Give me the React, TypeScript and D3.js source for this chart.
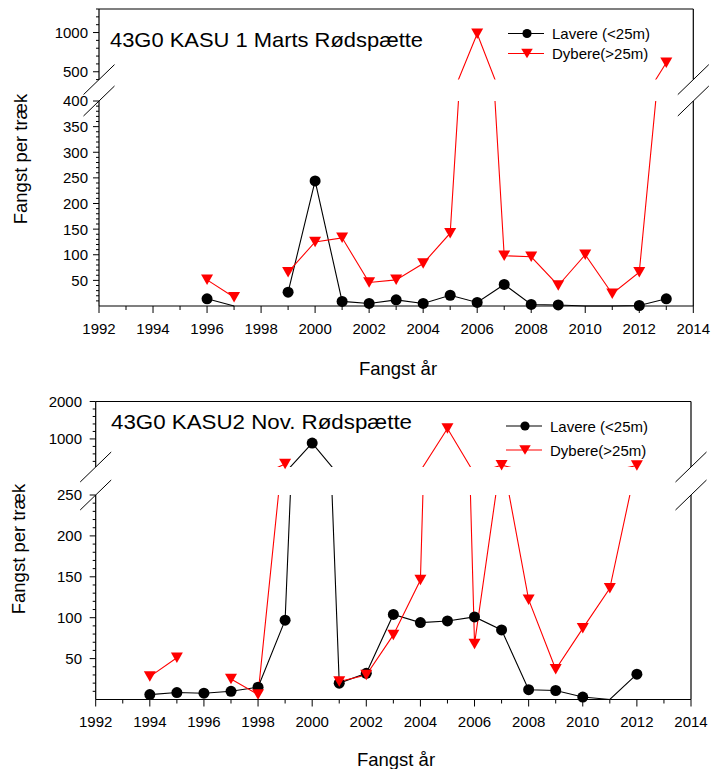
import React from 'react';
import * as d3 from 'd3';

// ---------- data ----------
const topYears = [1996, 1997, 1998, 1999, 2000, 2001, 2002, 2003, 2004, 2005, 2006, 2007, 2008, 2009, 2010, 2011, 2012, 2013];
const topLavere = [14, 0, null, 27, 244, 9, 5, 12, 5, 21, 7, 42, 3, 2, 0, 0, 1, 14];
const topDybere = [51, 17, null, 66, 125, 133, 46, 51, 83, 142, 985, 98, 96, 40, 100, 24, 66, 614];

const botYears = [1994, 1995, 1996, 1997, 1998, 1999, 2000, 2001, 2002, 2003, 2004, 2005, 2006, 2007, 2008, 2009, 2010, 2011, 2012];
const botLavere = [6, 8.5, 7.7, 10, 15, 97, 890, 20, 32, 104, 94, 96, 101, 85, 12, 11, 3, 0, 31];
const botDybere = [28, 51, null, 25, 6, 330, null, 22, 30, 79, 146, 1280, 68, 300, 122, 37, 87, 136, 290];

const xTickLabels = [1992, 1994, 1996, 1998, 2000, 2002, 2004, 2006, 2008, 2010, 2012, 2014];
const topLowerLabels = [50, 100, 150, 200, 250, 300, 350, 400];
const topUpperLabels = [500, 1000];
const botLowerLabels = [50, 100, 150, 200, 250];
const botUpperLabels = [1000, 2000];

const seriesNames = ['Lavere (<25m)', 'Dybere(>25m)'];
const titles = ['43G0 KASU 1 Marts Rødspætte', '43G0 KASU2 Nov. Rødspætte'];
const xTitle = 'Fangst år';
const yTitle = 'Fangst per træk';

const RED = '#ff0000';
const FONT = 'Liberation Sans, Arial, Helvetica, sans-serif';

type Cfg = {
  id: string;
  years: number[];
  lavere: (number | null)[];
  dybere: (number | null)[];
  x0: number; x1: number;
  loDomain: [number, number]; loBottom: number; loTop: number;
  upDomain: [number, number]; upBottom: number; upTop: number;
  loMinor: number; upMinor: number; upMinorStart: number;
  loLabels: number[]; upLabels: number[];
  labelX: number;
  tickBaseline: number;
  title: string; titleX: number; titleY: number; titleLen: number;
  legX: number; legY1: number; legY2: number;
  xTitleX: number; xTitleY: number;
  yTitleX: number; yTitleY: number;
};

function tri(cx: number, cy: number, w: number, h: number) {
  return `M${cx - w / 2},${cy - h / 2}L${cx + w / 2},${cy - h / 2}L${cx},${cy + h / 2}Z`;
}

function Panel({ c }: { c: Cfg }) {
  const x = d3.scaleLinear().domain([1992, 2014]).range([c.x0, c.x1]);
  const yLo = d3.scaleLinear().domain(c.loDomain).range([c.loBottom, c.loTop]);
  const yUp = d3.scaleLinear().domain(c.upDomain).range([c.upBottom, c.upTop]);

  const pts = (vals: (number | null)[]) => c.years.map((yr, i) => ({ yr, v: vals[i] }));
  type P = { yr: number; v: number | null };
  const lineLo = d3.line<P>().defined(d => d.v != null).x(d => x(d.yr)).y(d => yLo(d.v as number));
  const lineUp = d3.line<P>().defined(d => d.v != null).x(d => x(d.yr)).y(d => yUp(d.v as number));
  const yOf = (v: number) => (v <= c.loDomain[1] ? yLo(v) : yUp(v));

  const loMinorTicks = d3.range(c.loDomain[0] + c.loMinor, c.loDomain[1] + 0.001, c.loMinor);
  const upMinorTicks = d3.range(c.upMinorStart, c.upDomain[1] + 0.001, c.upMinor);
  const allYears = d3.range(1992, 2015);

  const series = [
    { vals: c.lavere, color: '#000', kind: 'circle' },
    { vals: c.dybere, color: RED, kind: 'tri' },
  ];

  const brk = (cx: number, cy: number, k: string) => (
    <line key={k} x1={cx - 15.5} y1={cy + 15} x2={cx + 15.5} y2={cy - 15} stroke="#000" strokeWidth={1} />
  );

  return (
    <g>
      <defs>
        <clipPath id={`${c.id}-lo`}>
          <rect x={c.x0} y={c.loTop} width={c.x1 - c.x0} height={c.loBottom - c.loTop + 1} />
        </clipPath>
        <clipPath id={`${c.id}-up`}>
          <rect x={c.x0} y={c.upTop} width={c.x1 - c.x0} height={c.upBottom - c.upTop} />
        </clipPath>
      </defs>

      {/* data lines */}
      {series.map((s, si) => (
        <g key={si}>
          <path d={lineLo(pts(s.vals)) || ''} fill="none" stroke={s.color} strokeWidth={1.1} clipPath={`url(#${c.id}-lo)`} />
          <path d={lineUp(pts(s.vals)) || ''} fill="none" stroke={s.color} strokeWidth={1.1} clipPath={`url(#${c.id}-up)`} />
        </g>
      ))}
      {/* markers */}
      {series.map((s, si) => (
        <g key={'m' + si}>
          {pts(s.vals).filter(d => d.v != null && (d.v as number) > 0).map((d, i) =>
            s.kind === 'circle'
              ? <circle key={i} cx={x(d.yr)} cy={yOf(d.v as number)} r={5.5} fill="#000" />
              : <path key={i} d={tri(x(d.yr), yOf(d.v as number), 12, 10.5)} fill={RED} />
          )}
        </g>
      ))}

      {/* frame & axes */}
      <g stroke="#000" strokeWidth={1.2} fill="none">
        <line x1={c.x0} y1={c.upTop} x2={c.x1} y2={c.upTop} />
        <line x1={c.x0} y1={c.upTop} x2={c.x0} y2={c.upBottom} />
        <line x1={c.x1} y1={c.upTop} x2={c.x1} y2={c.upBottom} />
        <line x1={c.x0} y1={c.loTop} x2={c.x0} y2={c.loBottom} />
        <line x1={c.x1} y1={c.loTop} x2={c.x1} y2={c.loBottom} />
        <line x1={c.x0} y1={c.loBottom} x2={c.x1} y2={c.loBottom} />
      </g>
      {brk(c.x0, c.upBottom, 'b1')}
      {brk(c.x0, c.loTop, 'b2')}
      {brk(c.x1, c.upBottom, 'b3')}
      {brk(c.x1, c.loTop, 'b4')}

      {/* y ticks */}
      <g stroke="#000" strokeWidth={1}>
        {loMinorTicks.map(t => {
          const major = c.loLabels.includes(t);
          return <line key={'lt' + t} x1={c.x0 - (major ? 6 : 3)} x2={c.x0} y1={yLo(t)} y2={yLo(t)} />;
        })}
        {upMinorTicks.map(t => {
          const major = c.upLabels.includes(t);
          return <line key={'ut' + t} x1={c.x0 - (major ? 6 : 3)} x2={c.x0} y1={yUp(t)} y2={yUp(t)} />;
        })}
        {allYears.map(yr => (
          <line key={'xt' + yr} x1={x(yr)} x2={x(yr)} y1={c.loBottom} y2={c.loBottom + (yr % 2 === 0 ? 7 : 4)} />
        ))}
      </g>
      <g fontFamily={FONT} fontSize={15} fill="#000">
        {c.loLabels.map(t => (
          <text key={'ll' + t} x={c.labelX} y={yLo(t)} dy="0.36em" textAnchor="end">{t}</text>
        ))}
        {c.upLabels.map(t => (
          <text key={'ul' + t} x={c.labelX} y={yUp(t)} dy="0.36em" textAnchor="end">{t}</text>
        ))}
        {xTickLabels.map(t => (
          <text key={'xl' + t} x={x(t)} y={c.tickBaseline} textAnchor="middle">{t}</text>
        ))}
      </g>

      {/* title */}
      <text x={c.titleX} y={c.titleY} fontFamily={FONT} fontSize={21} textLength={c.titleLen} lengthAdjust="spacingAndGlyphs">{c.title}</text>

      {/* legend */}
      <g fontFamily={FONT} fontSize={15}>
        <line x1={c.legX} x2={c.legX + 36} y1={c.legY1} y2={c.legY1} stroke="#000" strokeWidth={1.1} />
        <circle cx={c.legX + 19} cy={c.legY1} r={4.6} fill="#000" />
        <text x={c.legX + 44} y={c.legY1 + 5.8}>{seriesNames[0]}</text>
        <line x1={c.legX} x2={c.legX + 36} y1={c.legY2} y2={c.legY2} stroke={RED} strokeWidth={1.1} />
        <path d={tri(c.legX + 19, c.legY2, 11.5, 9.5)} fill={RED} />
        <text x={c.legX + 44} y={c.legY2 + 5.8}>{seriesNames[1]}</text>
      </g>

      {/* axis titles */}
      <text x={c.xTitleX} y={c.xTitleY} textAnchor="middle" fontFamily={FONT} fontSize={18.5}>{xTitle}</text>
      <text transform={`translate(${c.yTitleX},${c.yTitleY}) rotate(-90)`} textAnchor="middle" fontFamily={FONT} fontSize={18.5}>{yTitle}</text>
    </g>
  );
}

const topCfg: Cfg = {
  id: 'top', years: topYears, lavere: topLavere, dybere: topDybere,
  x0: 99, x1: 693.3,
  loDomain: [0, 400], loBottom: 306, loTop: 101,
  upDomain: [400, 1300], upBottom: 79.6, upTop: 9,
  loMinor: 10, upMinor: 100, upMinorStart: 400,
  loLabels: topLowerLabels, upLabels: topUpperLabels,
  labelX: 88, tickBaseline: 334,
  title: titles[0], titleX: 110, titleY: 47, titleLen: 313,
  legX: 508, legY1: 33.5, legY2: 53.5,
  xTitleX: 398, xTitleY: 375,
  yTitleX: 27, yTitleY: 159,
};

const botCfg: Cfg = {
  id: 'bot', years: botYears, lavere: botLavere, dybere: botDybere,
  x0: 95.7, x1: 691,
  loDomain: [0, 250], loBottom: 699.5, loTop: 495,
  upDomain: [250, 2000], upBottom: 467, upTop: 401.5,
  loMinor: 10, upMinor: 200, upMinorStart: 400,
  loLabels: botLowerLabels, upLabels: botUpperLabels,
  labelX: 82, tickBaseline: 727,
  title: titles[1], titleX: 111, titleY: 428.5, titleLen: 301,
  legX: 506, legY1: 426, legY2: 450,
  xTitleX: 396, xTitleY: 766,
  yTitleX: 25, yTitleY: 549,
};

export default function App() {
  return (
    <svg width={717} height={769} style={{ position: 'absolute', left: 0, top: 0, background: '#fff' }}>
      <rect width={717} height={769} fill="#fff" />
      <Panel c={topCfg} />
      <Panel c={botCfg} />
    </svg>
  );
}
